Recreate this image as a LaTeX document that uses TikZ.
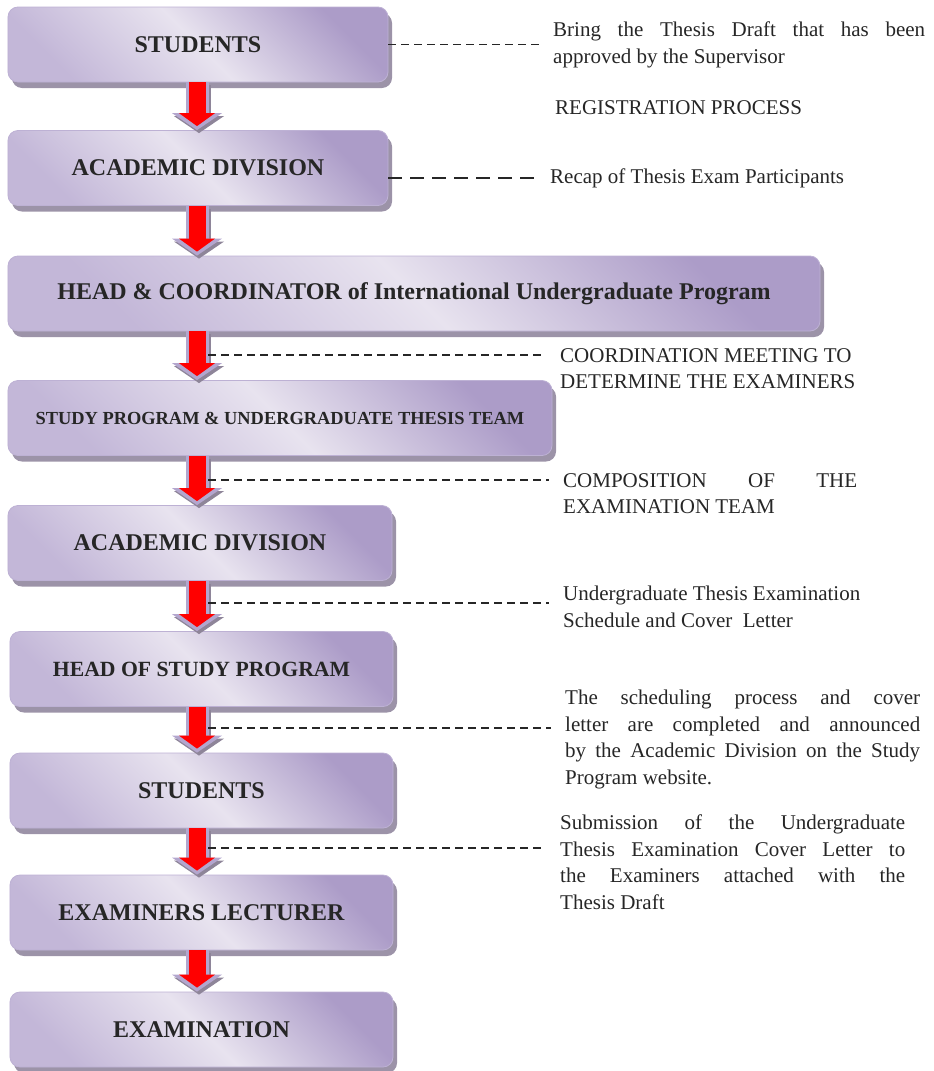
\documentclass[tikz,border=0pt]{standalone}
\usepackage{fontspec}
\setmainfont{Liberation Serif}
\usetikzlibrary{arrows.meta,shadows}

\definecolor{stagedark}{HTML}{AC9CC8}
\definecolor{stagelight}{HTML}{E8E3EF}
\definecolor{stagemid}{HTML}{C3B7D8}
\definecolor{stageline}{HTML}{BDB1D4}
\definecolor{stageshade}{HTML}{9C93A8}
\definecolor{arrowrim}{HTML}{B3A6CE}
\definecolor{arrowshade}{HTML}{8E8599}

\begin{document}
\begin{tikzpicture}[x=1bp, y=1bp,
        stage/.style = {rounded corners=10bp,
            draw=stageline, line width=0.8bp,
            top color=stagedark, bottom color=stagemid,
            middle color=stagelight, shading angle=-45,
            drop shadow={shadow xshift=4bp, shadow yshift=-6bp,
                fill=stageshade, opacity=1},
            minimum height=75bp, inner sep=0pt, text=black!85,
            font=\fontsize{24bp}{28bp}\selectfont\bfseries,
            },
        flowarrow/.style = {line width=17bp, draw=red, shorten >=4bp,
            -{Triangle[length=13bp, width=36bp, line width=0bp]},
            preaction={draw=arrowshade, line width=23bp, shorten >=0bp,
                -{Triangle[length=17bp, width=50bp, line width=0bp]},
                transform canvas={xshift=2bp, yshift=-3bp}},
            preaction={draw=arrowrim, line width=23bp, shorten >=0bp,
                -{Triangle[length=17bp, width=50bp, line width=0bp]}},
            },
        leader/.style = {draw=black!85, line width=1.9bp,
            dash pattern=on 8bp off 5bp},
        note/.style = {inner xsep=14bp, inner ysep=0pt, text=black!85,
            font=\fontsize{21bp}{26.5bp}\selectfont},
        ]

    \useasboundingbox (0,0) rectangle (934,-1071);

    % Stages
    \node[stage, minimum width=380bp] (s1) at (198,-44.5) {STUDENTS};
    \node[stage, minimum width=380bp] (s2) at (198,-168) {ACADEMIC DIVISION};
    \node[stage, minimum width=812bp] (s3) at (414,-293.5)
        {HEAD \& COORDINATOR of International Undergraduate Program};
    \node[stage, minimum width=544bp,
        font=\fontsize{18.4bp}{22bp}\selectfont\bfseries] (s4) at (280,-418)
        {STUDY PROGRAM \& UNDERGRADUATE THESIS TEAM};
    \node[stage, minimum width=384bp] (s5) at (200,-543) {ACADEMIC DIVISION};
    \node[stage, minimum width=383bp,
        font=\fontsize{21.7bp}{26bp}\selectfont\bfseries] (s6) at (201.5,-669)
        {HEAD OF STUDY PROGRAM};
    \node[stage, minimum width=383bp] (s7) at (201.5,-790.5) {STUDENTS};
    \node[stage, minimum width=383bp] (s8) at (201.5,-912.5) {EXAMINERS LECTURER};
    \node[stage, minimum width=383bp] (s9) at (201.5,-1029.5) {EXAMINATION};

    % Notes
    \node[note, anchor=north west, text width=372bp, align=justify] (t1)
        at (539,-22) {Bring the Thesis Draft that has been\linebreak
        approved by the Supervisor};
    \node[note, anchor=west] (reg) at (541,-108) {REGISTRATION PROCESS};
    \node[note, anchor=west] (t2) at (536,-178) {Recap of Thesis Exam Participants};
    \node[note, anchor=north west, align=left] (t3) at (546,-348)
        {COORDINATION MEETING TO\\DETERMINE THE EXAMINERS};
    \node[note, anchor=north west, text width=294bp, align=justify] (t4)
        at (549,-473) {COMPOSITION OF THE\linebreak EXAMINATION TEAM};
    \node[note, anchor=north west, align=left] (t5) at (549,-586)
        {Undergraduate Thesis Examination\\Schedule and Cover\ \ Letter};
    \node[note, anchor=north west, text width=355bp, align=justify] (t6)
        at (551,-690) {The scheduling process and cover\linebreak
        letter are completed and announced\linebreak
        by the Academic Division on the Study\linebreak
        Program website.};
    \node[note, anchor=north west, text width=345bp, align=justify] (t7)
        at (546,-815) {Submission of the Undergraduate\linebreak
        Thesis Examination Cover Letter to\linebreak
        the Examiners attached with the\linebreak
        Thesis Draft};

    % Flow arrows
    \coordinate (ax) at (197,0);
    \foreach \a/\b in {s1/s2, s2/s3, s3/s4, s4/s5, s5/s6, s6/s7, s7/s8, s8/s9}
        \draw[flowarrow] (\a.south -| ax) -- (\b.north -| ax);

    % Leaders
    \coordinate (l3) at (208,-355);
    \coordinate (l4) at (208,-480);
    \coordinate (l5) at (208,-603);
    \coordinate (l6) at (208,-728);
    \coordinate (l7) at (208,-848);
    \draw[leader] (s1.east) -- (s1.east -| t1.west);
    \draw[leader, dash pattern=on 14bp off 8bp] (t2.west -| s2.east) -- (t2.west);
    \foreach \k in {3,...,7}
        \draw[leader] (l\k) -- (l\k -| t\k.west);

\end{tikzpicture}
\end{document}
